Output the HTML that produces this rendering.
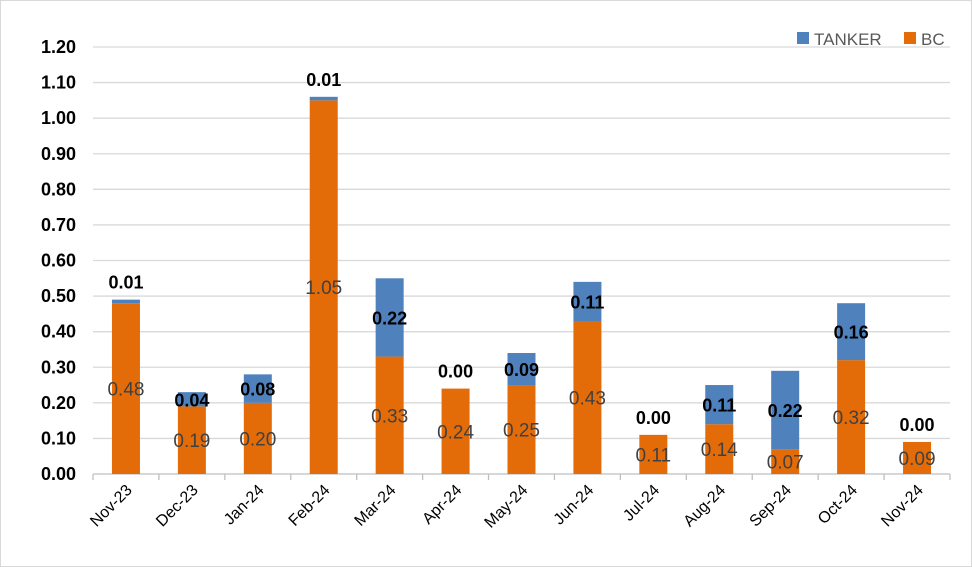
<!DOCTYPE html>
<html><head><meta charset="utf-8"><style>
body{margin:0;background:#fff}
svg{display:block}
text{font-family:"Liberation Sans",Arial,sans-serif}
</style></head><body>
<svg id="c" width="972" height="567">
<rect x="0.5" y="0.5" width="971" height="566" fill="#fff" stroke="#d9d9d9"/>
<g id="grid"></g><g id="bars"></g><g id="labels"></g>
<g>
<rect x="797" y="32" width="12" height="12" fill="#4f81bd"/>
<text x="814" y="45" font-size="17" fill="#595959">TANKER</text>
<rect x="904" y="32" width="12" height="12" fill="#e36c09"/>
<text x="921" y="45" font-size="17" fill="#595959">BC</text>
</g>
</svg>
<script>
const categories=["Nov-23","Dec-23","Jan-24","Feb-24","Mar-24","Apr-24","May-24","Jun-24","Jul-24","Aug-24","Sep-24","Oct-24","Nov-24"];
const bcValues=[0.48,0.19,0.20,1.05,0.33,0.24,0.25,0.43,0.11,0.14,0.07,0.32,0.09];
const tankerValues=[0.01,0.04,0.08,0.01,0.22,0.00,0.09,0.11,0.00,0.11,0.22,0.16,0.00];
const yTicks=[0,0.1,0.2,0.3,0.4,0.5,0.6,0.7,0.8,0.9,1.0,1.1,1.2];
const NS="http://www.w3.org/2000/svg";
const x0=93,x1=950,y0=474,y1=47,ymax=1.2;
const slot=(x1-x0)/categories.length,bw=28;
const Y=v=>y0-(v/ymax)*(y0-y1);
const X=i=>x0+slot*(i+0.5);
function mk(tag,attrs,parent,txt){const e=document.createElementNS(NS,tag);for(const k in attrs)e.setAttribute(k,attrs[k]);if(txt!==undefined)e.textContent=txt;document.getElementById(parent).appendChild(e);return e;}
yTicks.forEach(t=>{
  const l=mk('line',{x1:x0,x2:x1,y1:Y(t),y2:Y(t),stroke:t===0?'#bfbfbf':'#d9d9d9','stroke-width':1.3},'grid');
  
  
  const tx=mk('text',{x:76,y:Y(t)+6,'font-size':18,'font-weight':'bold','text-anchor':'end',fill:'#000'},'grid',t.toFixed(2));
  
  
});
for(let i=0;i<=categories.length;i++){
  const tk=mk('line',{x1:x0+slot*i,x2:x0+slot*i,y1:y0,y2:y0+6,stroke:'#bfbfbf','stroke-width':1.3},'grid');
  
  
}
categories.forEach((c,i)=>{
  const cx=X(i),b=bcValues[i],t=tankerValues[i];
  const rb=mk('rect',{x:cx-bw/2,y:Y(b),width:bw,height:y0-Y(b),fill:'#e36c09'},'bars');
  
  
  const rt=mk('rect',{x:cx-bw/2,y:Y(b+t),width:bw,height:Y(b)-Y(b+t),fill:'#4f81bd'},'bars');
  
  
  const lb=mk('text',{x:cx,y:(Y(b)+y0)/2+7,'font-size':19,'text-anchor':'middle',fill:'#404040'},'labels',b.toFixed(2));
  
  
  const ty=t<=0.01?Y(b+t)-11:(Y(b)+Y(b+t))/2+7;
  const lt=mk('text',{x:cx,y:ty,'font-size':18,'font-weight':'bold','text-anchor':'middle',fill:'#000'},'labels',t.toFixed(2));
  
  
  const xl=mk('text',{x:cx+7,y:y0+17,'font-size':16,'text-anchor':'end',fill:'#000',transform:`rotate(-45 ${cx+7} ${y0+17})`},'labels',c);
  
  
});
</script>
</body></html>
